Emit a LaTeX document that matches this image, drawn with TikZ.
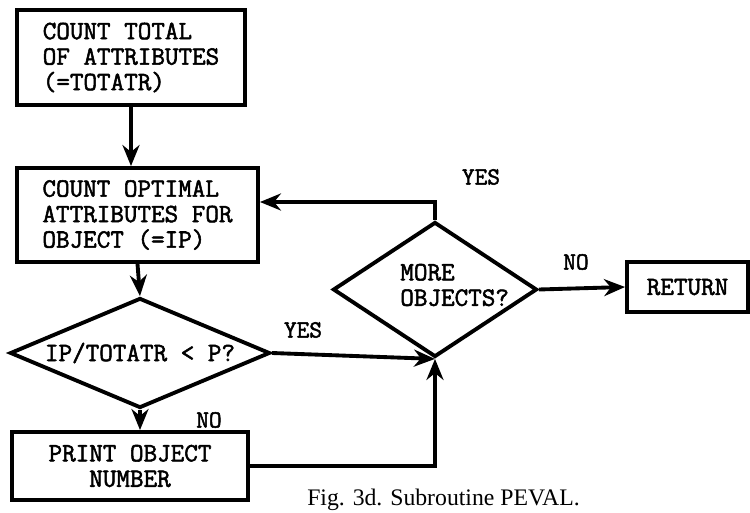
\documentclass[tikz,border=0pt]{standalone}
\usepackage{fontspec}
\setmainfont{Liberation Serif}
\newfontfamily\typewr{Latin Modern Mono}[AutoFakeBold=2]
\usetikzlibrary{shapes.geometric,arrows.meta,positioning,calc}

\begin{document}
\begin{tikzpicture}[
box/.style={draw, line width=2.2pt, inner sep=0pt, align=left,
font=\typewr\bfseries\fontsize{15}{14.5}\selectfont},
dec/.style={draw, diamond, line width=2.2pt, inner sep=0pt, align=left,
font=\typewr\bfseries\fontsize{15}{14.5}\selectfont},
txt/.style={align=left, inner sep=0pt, font=\typewr\bfseries\fontsize{15}{14.5}\selectfont},
lbl/.style={font=\typewr\bfseries\fontsize{14}{14}\selectfont},
arrow/.style={-{Stealth[length=4.2mm,width=3.4mm]}, line width=2.2pt}
]
\useasboundingbox (0,0) rectangle (15,10.24);

\node[box, minimum width=4.56cm, minimum height=1.90cm] (total) at (2.62,9.09)
{COUNT TOTAL\\OF ATTRIBUTES\\(=TOTATR)};
\node[box, minimum width=4.82cm, minimum height=1.88cm] (optim) at (2.75,5.94)
{COUNT OPTIMAL\\ATTRIBUTES FOR\\OBJECT (=IP)};
\node[dec, aspect=2.4, minimum width=5.2cm, minimum height=2.2cm] (ratio) at (2.80,3.18)
{IP/TOTATR < P?};
\node[box, align=center, minimum width=4.72cm, minimum height=1.36cm] (print) at (2.60,0.92)
{PRINT OBJECT\\NUMBER};
\node[dec, minimum width=4.08cm, minimum height=2.7cm] (more) at (8.70,4.45) {};
\node[txt, anchor=west] (moretxt) at (8.0,4.54) {MORE\\OBJECTS?};
\node[box, minimum width=2.42cm, minimum height=1.0cm] (ret) at (13.75,4.50) {RETURN};

\coordinate (back) at (8.70,6.20);

\draw[arrow] (total.south) -- (total.south |- optim.north);
\draw[arrow] (optim.south) -- (ratio.north);
\draw[arrow] (ratio.south) -- (ratio.south |- print.north);
\draw[arrow] (ratio.east) -- (more.south);
\draw[arrow] (print.east) -- (print.east -| more.south) -- (more.south);
\draw[arrow] (more.north) -- (back) -- (back -| optim.east);
\draw[arrow] (more.east) -- (ret.west);

\node[lbl] (yes1) at (6.06,3.64) {YES};
\node[lbl] (no1) at (4.18,1.84) {NO};
\node[lbl] (yes2) at (9.62,6.70) {YES};
\node[lbl] (no2) at (11.52,5.00) {NO};

\node[font=\fontsize{13.5}{14}\selectfont] (cap) at (8.87,0.24) {Fig. 3d. Subroutine PEVAL.};

\end{tikzpicture}
\end{document}
